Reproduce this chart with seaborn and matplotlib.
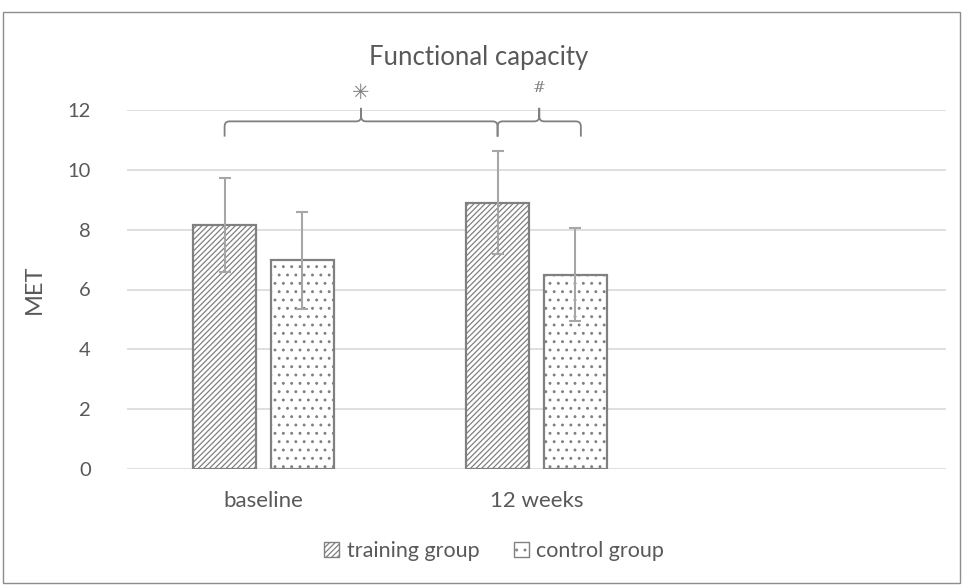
import matplotlib
matplotlib.use("Agg")
import matplotlib.pyplot as plt
from matplotlib.patches import Patch, Rectangle, PathPatch
from matplotlib.path import Path
import seaborn as sns
import pandas as pd

# Functional capacity (MET), mean and SD per group and time point
timepoints = ["baseline", "12 weeks"]
groups = ["training group", "control group"]
training_mean = [8.15, 8.90]
training_sd = [1.58, 1.72]
control_mean = [6.97, 6.49]
control_sd = [1.63, 1.55]
y_ticks = [0, 2, 4, 6, 8, 10, 12]
sig_marks = ["\u2733", "#"]

df = pd.DataFrame({
    "timepoint": timepoints * 2,
    "group": [groups[0]] * 2 + [groups[1]] * 2,
    "MET": training_mean + control_mean,
    "sd": training_sd + control_sd,
})

TEXT = "#595959"
EDGE = "#808080"
ERR = "#a6a6a6"
GRID = "#d9d9d9"
HATCHES = {groups[0]: "//////", groups[1]: ".."}

sns.set_theme(style="white")
plt.rcParams["font.family"] = ["Lato", "DejaVu Sans"]
plt.rcParams["hatch.linewidth"] = 0.9

fig = plt.figure(figsize=(9.63, 5.86), dpi=100)
ax = fig.add_axes([127 / 963, 1 - 469 / 586, 819 / 963, 359 / 586])

sns.barplot(data=df, x="timepoint", y="MET", hue="group",
            order=timepoints, hue_order=groups,
            palette=["white", "white"], width=0.57, gap=0.2,
            edgecolor=EDGE, linewidth=1.6, errorbar=None,
            legend=False, ax=ax, zorder=2)

# hatch each bar and add the SD whiskers on top
centers = {}
for patch, (_, row) in zip(ax.patches, df.iterrows()):
    patch.set_hatch(HATCHES[row["group"]])
    x = patch.get_x() + patch.get_width() / 2
    centers[(row["group"], row["timepoint"])] = x
    ax.errorbar(x, row["MET"], yerr=row["sd"], fmt="none", ecolor=ERR,
                elinewidth=1.5, capsize=4, capthick=1.5, zorder=3)

ax.set_xlim(-0.5, 2.5)
ax.set_ylim(0, 12)
ax.set_yticks(y_ticks)
ax.yaxis.grid(True, color=GRID, linewidth=1.2, zorder=0)
ax.set_axisbelow(True)
for s in ax.spines.values():
    s.set_visible(False)
ax.tick_params(axis="y", length=0, pad=26, labelsize=14.5, labelcolor=TEXT)
ax.tick_params(axis="x", length=0, pad=16, labelsize=16, labelcolor=TEXT)
ax.set_xlabel("")
ax.set_ylabel("MET", fontsize=17, color=TEXT)
ax.yaxis.set_label_coords(-0.100, 0.5)


def brace(x0, x1, y_end, y_mid, y_tip, rx=0.018, ry=0.17):
    xc = (x0 + x1) / 2
    verts = [
        (x0, y_end), (x0, y_mid - ry), (x0, y_mid), (x0 + rx, y_mid),
        (xc - rx, y_mid), (xc, y_mid), (xc, y_mid + ry), (xc, y_tip),
        (xc, y_tip), (xc, y_mid + ry), (xc, y_mid), (xc + rx, y_mid),
        (x1 - rx, y_mid), (x1, y_mid), (x1, y_mid - ry), (x1, y_end),
    ]
    codes = [
        Path.MOVETO, Path.LINETO, Path.CURVE3, Path.CURVE3,
        Path.LINETO, Path.CURVE3, Path.CURVE3, Path.LINETO,
        Path.MOVETO, Path.LINETO, Path.CURVE3, Path.CURVE3,
        Path.LINETO, Path.CURVE3, Path.CURVE3, Path.LINETO,
    ]
    ax.add_patch(PathPatch(Path(verts, codes), fill=False, edgecolor=EDGE,
                           linewidth=1.3, clip_on=False, zorder=4))
    return xc


xa = brace(centers[(groups[0], timepoints[0])], centers[(groups[0], timepoints[1])],
           11.11, 11.62, 12.07)
xb = brace(centers[(groups[0], timepoints[1])], centers[(groups[1], timepoints[1])] + 0.02,
           11.11, 11.62, 12.07)
ax.text(xa, 12.57, sig_marks[0], ha="center", va="center", fontsize=15,
        fontweight="bold", color=EDGE, family="DejaVu Sans", clip_on=False)
ax.text(xb, 12.72, sig_marks[1], ha="center", va="center", fontsize=11,
        color=EDGE, family="DejaVu Serif", clip_on=False)

fig.text(0.497, 1 - 58 / 586, "Functional capacity", ha="center", va="center",
         fontsize=18.5, color=TEXT)

handles = [Patch(facecolor="white", edgecolor=EDGE, hatch=HATCHES[g], linewidth=1.0)
           for g in groups]
fig.legend(handles, groups, loc="center", bbox_to_anchor=(0.513, 1 - 551 / 586),
           ncol=2, frameon=False, fontsize=15.5, handlelength=0.7, handleheight=0.7,
           handletextpad=0.35, columnspacing=1.6, labelcolor=TEXT)

fig.add_artist(Rectangle((3 / 963, 3 / 586), 957 / 963, 571 / 586,
                         transform=fig.transFigure, fill=False,
                         edgecolor="#8c8c8c", linewidth=1.0))

fig.savefig("out.png", dpi=100)
